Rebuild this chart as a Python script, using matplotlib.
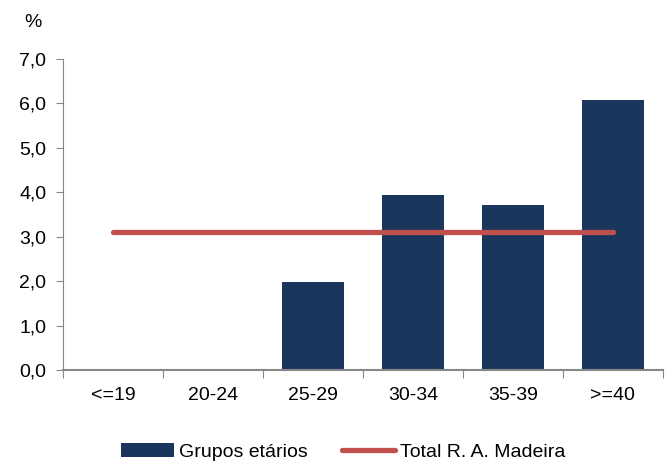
import matplotlib
matplotlib.use('Agg')
import matplotlib.pyplot as plt
import numpy as np

# dados
grupos = ['<=19', '20-24', '25-29', '30-34', '35-39', '>=40']
grupos_etarios = [0.0, 0.0, 1.98, 3.93, 3.70, 6.06]
total_madeira = [3.1, 3.1, 3.1, 3.1, 3.1, 3.1]
y_ticks = [0, 1, 2, 3, 4, 5, 6, 7]

plt.rcParams['font.family'] = ['Liberation Sans', 'DejaVu Sans']
fs = 14

fig = plt.figure(figsize=(6.65, 4.62), dpi=100)
ax = fig.add_axes([0.0947, 0.199, 0.902, 0.674])

x = np.arange(len(grupos))
barras = ax.bar(x, grupos_etarios, width=0.62, color='#1B365D', label='Grupos etários', zorder=2)
linha, = ax.plot(x, total_madeira, color='#C0504D', lw=3.8, solid_capstyle='round',
                 label='Total R. A. Madeira', zorder=3)

ax.set_xlim(-0.5, len(grupos) - 0.5)
ax.set_ylim(0, 7)
ax.set_yticks(y_ticks)
ax.set_yticklabels([f'{v:.1f}'.replace('.', ',') for v in y_ticks], fontsize=fs)

# ticks do eixo x nas fronteiras das categorias
ax.set_xticks(np.arange(-0.5, len(grupos), 1.0))
ax.set_xticklabels([])
ax.set_xticks(x, minor=True)
ax.set_xticklabels(grupos, minor=True, fontsize=fs)
ax.tick_params(axis='x', which='major', length=6, color='#888888', direction='out')
ax.tick_params(axis='x', which='minor', length=0, pad=12)
ax.tick_params(axis='y', length=5, color='#888888', pad=7)

for s in ['top', 'right']:
    ax.spines[s].set_visible(False)
ax.spines['left'].set_color('#888888')
ax.spines['bottom'].set_color('#888888')
ax.spines['bottom'].set_linewidth(1.5)

fig.text(0.05, 0.952, '%', fontsize=fs, ha='center', va='center')

fig.legend([barras, linha], ['Grupos etários', 'Total R. A. Madeira'],
           loc='lower center', bbox_to_anchor=(0.516, -0.035), ncol=2, frameon=False,
           fontsize=fs, handlelength=2.7, handletextpad=0.25, columnspacing=1.8)

fig.savefig('out.png', dpi=100)
